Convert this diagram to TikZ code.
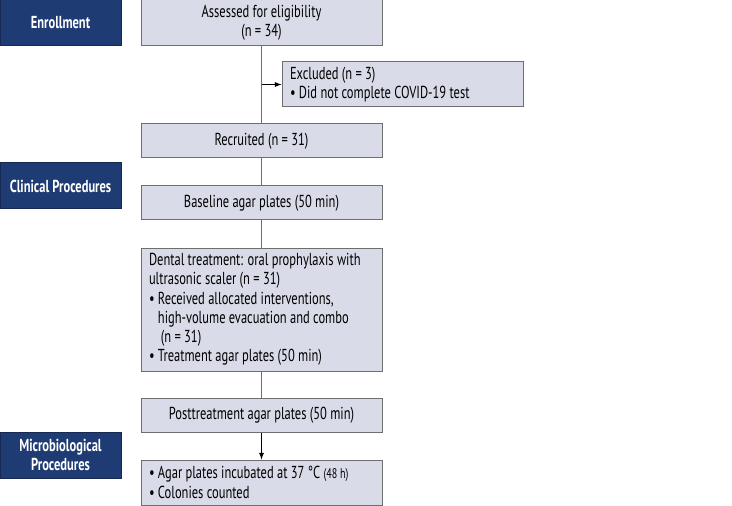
\documentclass[tikz,border=0pt]{standalone}
\usepackage{fontspec}
\setmainfont[FakeStretch=0.72]{PT Sans}
\usetikzlibrary{arrows}
\definecolor{navy}{HTML}{1F3B73}
\definecolor{boxgray}{HTML}{D9DBE8}
\definecolor{linegray}{HTML}{6E6E6E}
\begin{document}
\begin{tikzpicture}[x=0.75pt,y=-0.75pt,every path/.style={>=latex},
		font=\fontsize{13}{14.4}\selectfont,
		stage/.style={draw=navy!70!black,fill=navy,text=white,font=\fontsize{13}{14.4}\selectfont\bfseries,
			minimum width=90.75pt,minimum height=34.5pt,align=center,inner sep=0pt,line width=0.75pt},
		box/.style={draw=linegray,fill=boxgray,minimum width=180.75pt,align=center,inner sep=0pt,line width=0.75pt},
		listbox/.style={box,text width=168.75pt,align=flush left,inner xsep=6pt}]
		\useasboundingbox (0,0) rectangle (732,506);
		
		% draw stage labels on the left
		\node[stage] (enroll) at (60.5,23) {Enrollment};
		\node[stage] (clinical) at (60.5,186) {Clinical Procedures};
		\node[stage] (micro) at (60.5,455) {Microbiological\\Procedures};
		
		% draw flow boxes
		\node[box,minimum height=34.5pt] (assessed) at (261.5,23) {Assessed for eligibility\\(n = 34)};
		\node[listbox,minimum height=33.75pt] (excluded) at (402.5,84.5) {Excluded (n = 3)\\\textbullet\ Did not complete COVID-19 test};
		\node[box,minimum height=25.5pt] (recruited) at (261.5,141) {Recruited (n = 31)};
		\node[box,minimum height=25.5pt] (baseline) at (261.5,203) {Baseline agar plates (50 min)};
		\node[listbox,minimum height=92.25pt] (dental) at (261.5,309.5) {Dental treatment: oral prophylaxis with\\
			ultrasonic scaler (n = 31)\\
			\textbullet\ Received allocated interventions,\\
			\hphantom{\textbullet\ }high-volume evacuation and combo\\
			\hphantom{\textbullet\ }\,(n = 31)\\
			\textbullet\ Treatment agar plates (50 min)};
		\node[box,minimum height=25.5pt] (post) at (261.5,415) {Posttreatment agar plates (50 min)};
		\node[listbox,minimum height=33.75pt] (agar) at (261.5,482.5) {\textbullet\ Agar plates incubated at 37 °C {\fontsize{10.5}{12}\selectfont(48 h)}\\
			\textbullet\ Colonies counted};
		
		% draw connectors
		\coordinate (branch) at (assessed.south |- excluded.west);
		\draw[linegray,line width=0.75pt] (assessed) -- (recruited);
		\draw[->,line width=0.75pt] (branch) -- (excluded);
		\draw[linegray,line width=0.75pt] (recruited) -- (baseline);
		\draw[linegray,line width=0.75pt] (baseline) -- (dental);
		\draw[linegray,line width=0.75pt] (dental) -- (post);
		\draw[->,line width=0.75pt] (post) -- (agar);
\end{tikzpicture}
\end{document}
